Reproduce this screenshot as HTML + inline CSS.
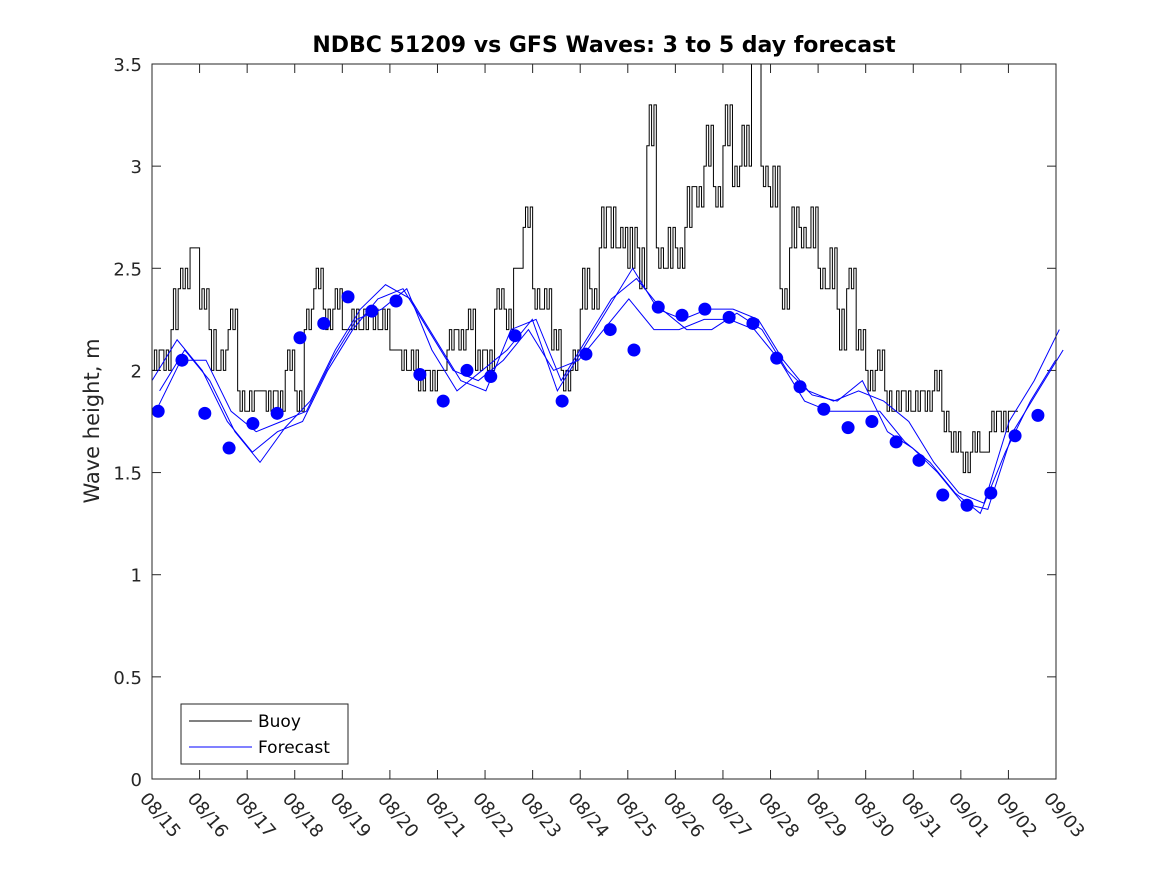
<!DOCTYPE html>
<html><head><meta charset="utf-8"><style>
html,body{margin:0;padding:0;background:#fff;}
svg{display:block;font-family:"DejaVu Sans","Liberation Sans",sans-serif;}
</style></head><body>
<svg id="chart" width="1167" height="875" viewBox="0 0 1167 875" xmlns="http://www.w3.org/2000/svg">
<rect x="0" y="0" width="1167" height="875" fill="#fff"/>
<text x="604" y="52" text-anchor="middle" font-size="22" font-weight="bold" fill="#000">NDBC 51209 vs GFS Waves: 3 to 5 day forecast</text>
<text x="0" y="0" transform="translate(99,421) rotate(-90)" text-anchor="middle" font-size="21" fill="#262626">Wave height, m</text>
<g id="grid"></g>
<g id="series"></g>
<rect x="152" y="64" width="904" height="715" fill="none" stroke="#262626" stroke-width="1"/>
<g>
<rect x="181" y="704" width="167" height="60" fill="#fff" stroke="#262626" stroke-width="1"/>
<line x1="189" y1="721" x2="252" y2="721" stroke="#000" stroke-width="1"/>
<text x="258" y="727" font-size="17" fill="#000">Buoy</text>
<line x1="189" y1="747" x2="252" y2="747" stroke="#0000ff" stroke-width="1"/>
<text x="258" y="753" font-size="17" fill="#000">Forecast</text>
</g>
</svg>
<script>
const xTickLabels = ["08/15","08/16","08/17","08/18","08/19","08/20","08/21","08/22","08/23","08/24","08/25","08/26","08/27","08/28","08/29","08/30","08/31","09/01","09/02","09/03"];
const yTicks = [0,0.5,1,1.5,2,2.5,3,3.5];
const yTickLabels = ["0","0.5","1","1.5","2","2.5","3","3.5"];
const buoyStepHours = 4.8;
const buoyValues = [2.0,2.1,2.2,2.5,2.6,2.3,2.2,2.0,2.2,1.9,1.8,1.9,1.8,1.9,2.0,1.9,2.2,2.4,2.3,2.3,2.2,2.3,2.2,2.3,2.2,2.1,2.1,2.0,1.9,2.0,2.0,2.1,2.2,2.2,2.0,2.1,2.3,2.3,2.5,2.7,2.4,2.3,2.1,2.0,2.0,2.3,2.4,2.6,2.8,2.6,2.5,2.6,3.1,2.6,2.5,2.6,2.7,2.9,3.0,2.9,3.1,2.9,3.2,3.5,3.0,2.8,2.4,2.6,2.7,2.6,2.5,2.4,2.3,2.4,2.1,2.0,2.0,1.9,1.8,1.9,1.8,1.9,1.9,1.8,1.6,1.6,1.6,1.6,1.7,1.8,1.8];
const buoyJitter = [0.1,-0.1,0.2,-0.1,0,0.1,-0.2,0.1,0.1,-0.1,0.1,0,0.1,-0.1,0.1,-0.1,0.1,0.1,-0.1,0.1,0,-0.1,0.1,-0.1,0.1,0,-0.1,0.1,0.1,-0.1,0,0.1,-0.1,0.1,0.1,-0.1,0.1,-0.1,0,0.1,-0.1,0.1,0.1,-0.1,0.1,0.2,-0.1,0.2,-0.2,0.1,0.2,-0.2,0.2,-0.1,0.2,-0.1,0.2,-0.1,0.2,-0.1,0.2,0.1,-0.2,0.2,-0.1,0.2,-0.1,0.2,-0.1,0.2,-0.1,0.2,-0.2,0.1,0.1,-0.1,0.1,-0.1,0.1,-0.1,0.1,-0.1,0.1,-0.1,0.1,-0.1,0.1,0,0.1,-0.1,0];
const dotDays = [0.13,0.63,1.11,1.62,2.12,2.63,3.11,3.61,4.12,4.62,5.13,5.63,6.12,6.62,7.12,7.63,8.62,9.12,9.63,10.13,10.64,11.14,11.62,12.13,12.63,13.13,13.62,14.12,14.63,15.13,15.64,16.12,16.62,17.13,17.63,18.14,18.62];
const dotValues = [1.80,2.05,1.79,1.62,1.74,1.79,2.16,2.23,2.36,2.29,2.34,1.98,1.85,2.00,1.97,2.17,1.85,2.08,2.20,2.10,2.31,2.27,2.30,2.26,2.23,2.06,1.92,1.81,1.72,1.75,1.65,1.56,1.39,1.34,1.40,1.68,1.78];
const fcStepHours = 12.66;
const forecastA = [1.95,2.15,2.0,1.75,1.6,1.7,1.75,2.0,2.2,2.35,2.4,2.2,2.0,1.95,2.05,2.2,2.0,2.05,2.2,2.35,2.2,2.2,2.25,2.25,2.2,2.05,1.85,1.8,1.8,1.8,1.65,1.55,1.4,1.3,1.6,1.85,2.05];
const forecastB = [1.8,2.05,2.05,1.8,1.7,1.75,1.8,2.05,2.25,2.3,2.4,2.1,1.9,2.0,2.1,2.25,1.9,2.1,2.3,2.5,2.3,2.25,2.3,2.3,2.25,2.05,1.9,1.85,1.9,1.85,1.75,1.55,1.4,1.35,1.75,1.95,2.2];
const forecastC = [1.9,2.1,1.95,1.7,1.55,1.72,1.85,2.1,2.3,2.42,2.35,2.15,1.95,1.9,2.2,2.25,1.95,2.15,2.35,2.45,2.3,2.2,2.2,2.28,2.2,2.0,1.88,1.85,1.95,1.7,1.62,1.5,1.35,1.32,1.7,1.9,2.1];

const X0=152,X1=1056,Y0=779,Y1=64,NDAYS=19;
const xs = d => X0 + d*(X1-X0)/NDAYS;
const ys = v => Y0 - v*(Y0-Y1)/3.5;
const NS="http://www.w3.org/2000/svg";
const grid=document.getElementById('grid'), series=document.getElementById('series');
function mk(tag,attrs,parent){const e=document.createElementNS(NS,tag);for(const k in attrs)e.setAttribute(k,attrs[k]);parent.appendChild(e);return e;}

xTickLabels.forEach((lab,i)=>{
  const x=xs(i);
  const t1=mk('line',{x1:x,y1:Y0,x2:x,y2:Y0-9,stroke:'#262626'},grid);
  
  
  mk('line',{x1:x,y1:Y1,x2:x,y2:Y1+9,stroke:'#262626'},grid);
  const t=mk('text',{x:0,y:0,transform:`translate(${x-13},${Y0+20}) rotate(50)`,'font-size':18,fill:'#262626'},grid);
  
  
  t.textContent=lab;
});
yTicks.forEach((v,i)=>{
  const y=ys(v);
  const l=mk('line',{x1:X0,y1:y,x2:X0+9,y2:y,stroke:'#262626'},grid);
  
  
  mk('line',{x1:X1,y1:y,x2:X1-9,y2:y,stroke:'#262626'},grid);
  const t=mk('text',{x:X0-10,y:y+7,'text-anchor':'end','font-size':18,fill:'#262626'},grid);
  
  
  t.textContent=yTickLabels[i];
});

let pts=[]; let prev=null;
const SUB=4;
buoyValues.forEach((v,i)=>{
  for(let s=0;s<SUB;s++){
    const d0=(i+s/SUB)*buoyStepHours/24, d1=(i+(s+1)/SUB)*buoyStepHours/24;
    const val=Math.min(3.5,Math.max(0,(s%2===0)?v:v+buoyJitter[i]));
    if(prev!==null) pts.push(`${xs(d0)},${ys(prev)}`);
    pts.push(`${xs(d0)},${ys(val)}`,`${xs(d1)},${ys(val)}`);
    prev=val;
  }
});
const bl=mk('polyline',{points:pts.join(' '),fill:'none',stroke:'#000','stroke-width':1},series);



[forecastA,forecastB,forecastC].forEach((arr,j)=>{
  const p=arr.map((v,i)=>`${xs(i*fcStepHours/24+j*0.08)},${ys(v)}`).join(' ');
  const pl=mk('polyline',{points:p,fill:'none',stroke:'#0000ff','stroke-width':1},series);
  
  
});
dotDays.forEach((d,i)=>{
  const c=mk('circle',{cx:xs(d),cy:ys(dotValues[i]),r:6.5,fill:'#0000ff'},series);
  
  
});
</script>
</body></html>
